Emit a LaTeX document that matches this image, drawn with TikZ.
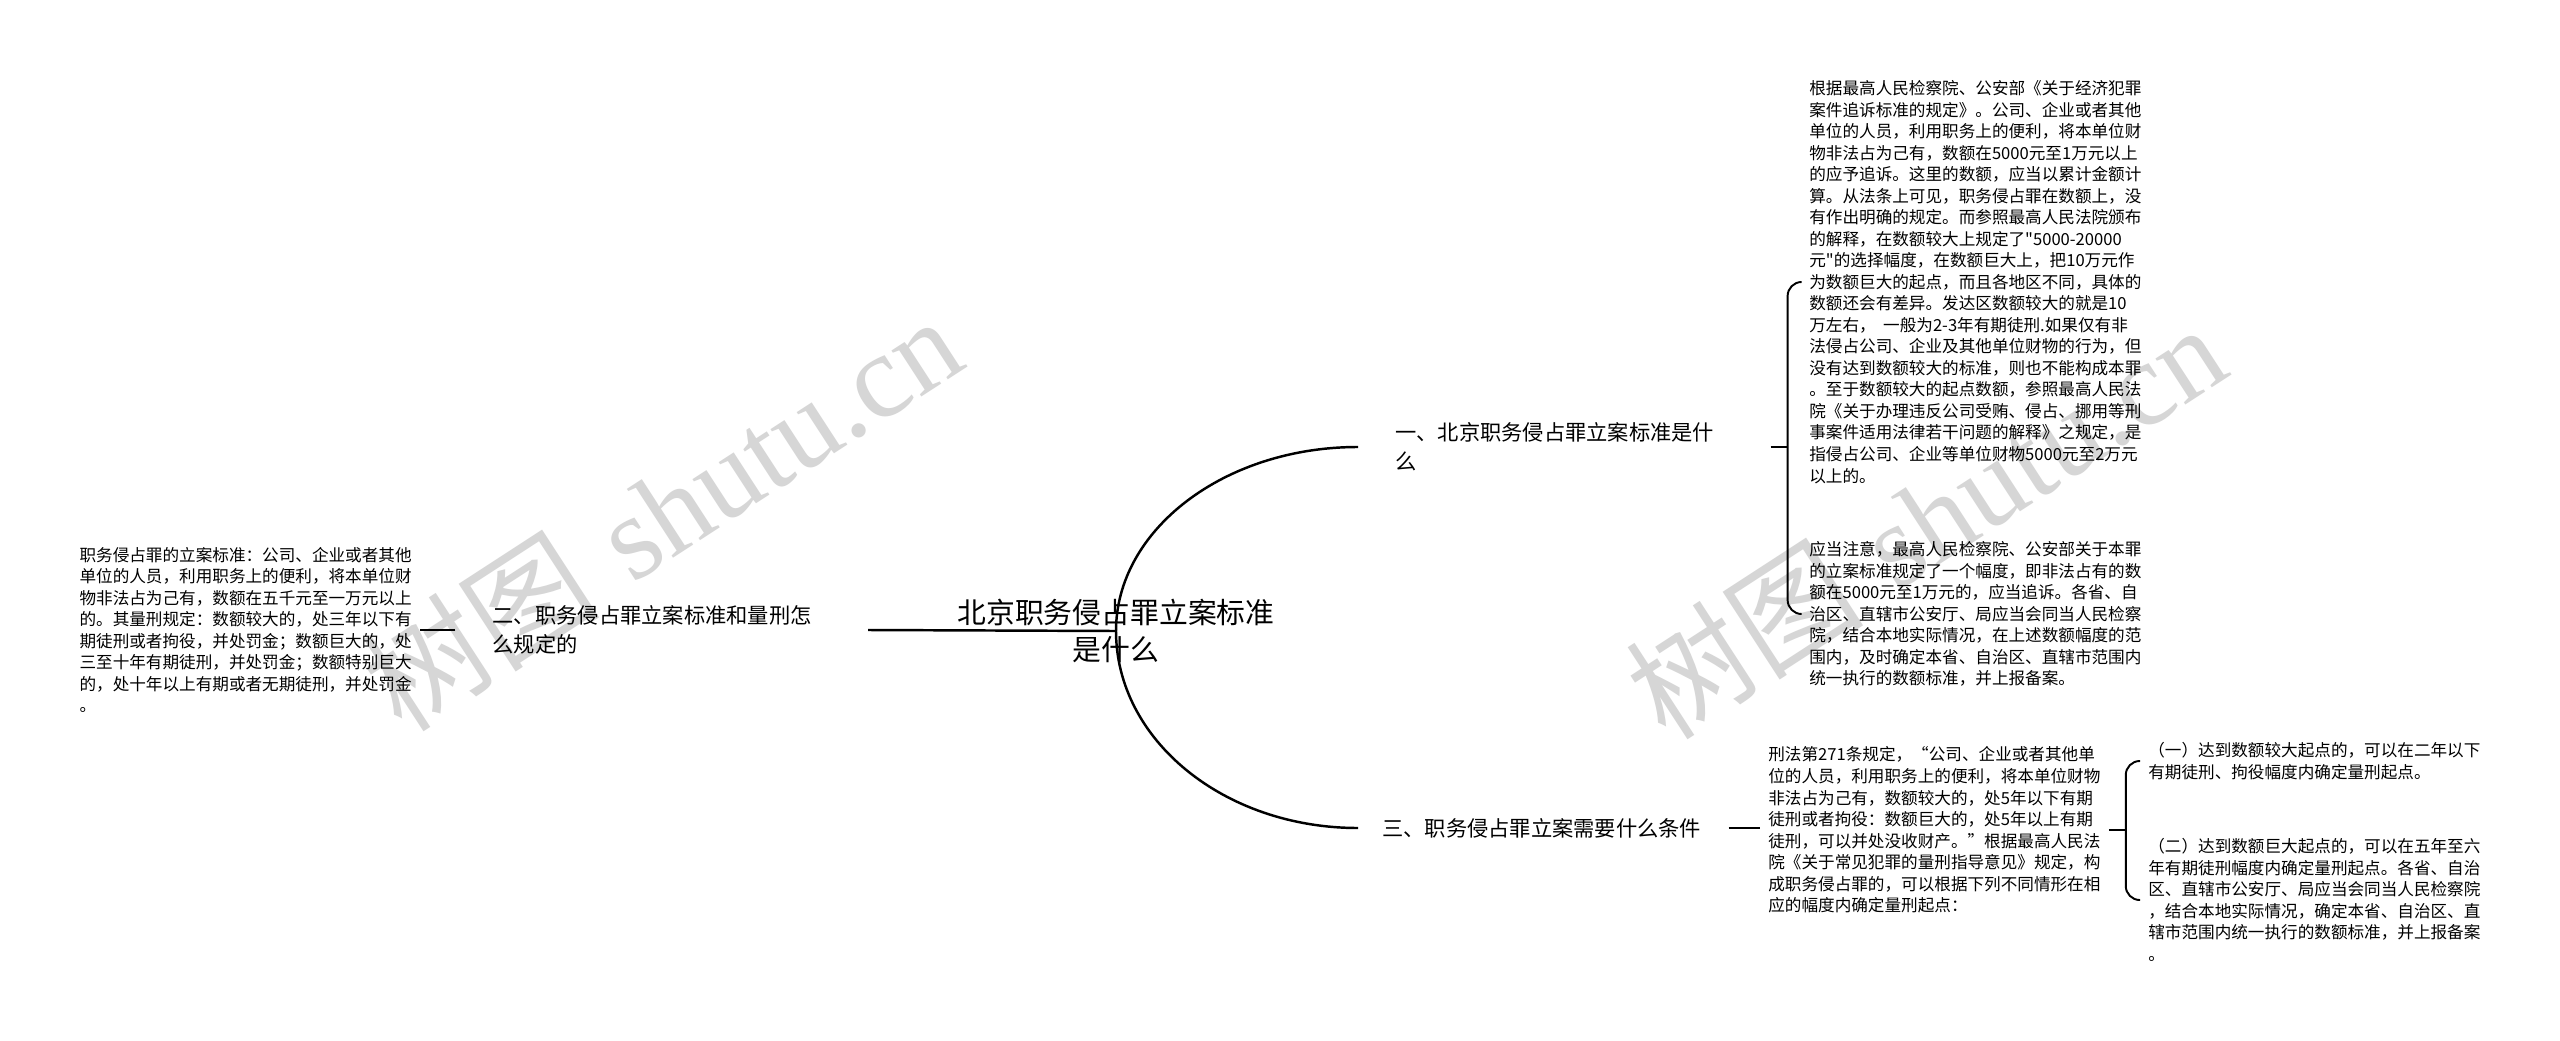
\documentclass[tikz,border=0pt]{standalone}
\usepackage{fontspec}
\newfontfamily\cjk{Noto Sans CJK SC}
\newfontfamily\wmlatin{Liberation Serif}

\begin{document}
\begin{tikzpicture}[x=0.02cm, y=-0.02cm,
  wmark/.style={text=gray!32, inner sep=0pt, rotate=33, font=\fontsize{68pt}{68pt}\selectfont},
  root/.style={font=\cjk\fontsize{16.4pt}{21.3pt}\selectfont, align=center, inner sep=0pt},
  branch/.style={font=\cjk\fontsize{12.1pt}{16.5pt}\selectfont, align=left, inner xsep=0.74cm, inner ysep=0pt, text width=6.76cm},
  leaf/.style={font=\cjk\fontsize{9.45pt}{12.25pt}\selectfont, align=left, inner xsep=0.16cm, inner ysep=0pt},
  trunk/.style={draw=black, line width=1.4pt},
  twig/.style={draw=black, line width=1.1pt}]
\fill[white] (0,0) rectangle (2560,1041);
\useasboundingbox (0,0) rectangle (2560,1041);

\node[wmark] (wmleft) at (661,512) {{\cjk 树图} {\wmlatin shutu.cn}};
\node[wmark] (wmright) at (1925,520) {{\cjk 树图} {\wmlatin shutu.cn}};

\node[root] (root) at (1116,631) {北京职务侵占罪立案标准\\是什么};

\node[branch, anchor=west] (b1) at (1358,447) {一、北京职务侵占罪立案标准是什\\么};
\node[branch, anchor=east] (b2) at (868,630) {二、职务侵占罪立案标准和量刑怎\\么规定的};
\node[branch, anchor=west, inner xsep=0.48cm, text width=6.44cm] (b3) at (1358,828) {三、职务侵占罪立案需要什么条件};

\node[leaf, anchor=west] (la1) at (1801,282) {根据最高人民检察院、公安部《关于经济犯罪\\
案件追诉标准的规定》。公司、企业或者其他\\
单位的人员，利用职务上的便利，将本单位财\\
物非法占为己有，数额在5000元至1万元以上\\
的应予追诉。这里的数额，应当以累计金额计\\
算。从法条上可见，职务侵占罪在数额上，没\\
有作出明确的规定。而参照最高人民法院颁布\\
的解释，在数额较大上规定了"5000-20000\\
元"的选择幅度，在数额巨大上，把10万元作\\
为数额巨大的起点，而且各地区不同，具体的\\
数额还会有差异。发达区数额较大的就是10\\
万左右，\ \ 一般为2-3年有期徒刑.如果仅有非\\
法侵占公司、企业及其他单位财物的行为，但\\
没有达到数额较大的标准，则也不能构成本罪\\
。至于数额较大的起点数额，参照最高人民法\\
院《关于办理违反公司受贿、侵占、挪用等刑\\
事案件适用法律若干问题的解释》之规定，是\\
指侵占公司、企业等单位财物5000元至2万元\\
以上的。};
\node[leaf, anchor=west] (la2) at (1801,614) {应当注意，最高人民检察院、公安部关于本罪\\
的立案标准规定了一个幅度，即非法占有的数\\
额在5000元至1万元的，应当追诉。各省、自\\
治区、直辖市公安厅、局应当会同当人民检察\\
院，结合本地实际情况，在上述数额幅度的范\\
围内，及时确定本省、自治区、直辖市范围内\\
统一执行的数额标准，并上报备案。};
\node[leaf, anchor=east] (lb) at (420,630) {职务侵占罪的立案标准：公司、企业或者其他\\
单位的人员，利用职务上的便利，将本单位财\\
物非法占为己有，数额在五千元至一万元以上\\
的。其量刑规定：数额较大的，处三年以下有\\
期徒刑或者拘役，并处罚金；数额巨大的，处\\
三至十年有期徒刑，并处罚金；数额特别巨大\\
的，处十年以上有期或者无期徒刑，并处罚金\\
。};
\node[leaf, anchor=west] (lc) at (1760,830) {刑法第271条规定，“公司、企业或者其他单\\
位的人员，利用职务上的便利，将本单位财物\\
非法占为己有，数额较大的，处5年以下有期\\
徒刑或者拘役：数额巨大的，处5年以上有期\\
徒刑，可以并处没收财产。”根据最高人民法\\
院《关于常见犯罪的量刑指导意见》规定，构\\
成职务侵占罪的，可以根据下列不同情形在相\\
应的幅度内确定量刑起点：};
\node[leaf, anchor=west] (lc1) at (2140,761) {（一）达到数额较大起点的，可以在二年以下\\
有期徒刑、拘役幅度内确定量刑起点。};
\node[leaf, anchor=west] (lc2) at (2140,900) {（二）达到数额巨大起点的，可以在五年至六\\
年有期徒刑幅度内确定量刑起点。各省、自治\\
区、直辖市公安厅、局应当会同当人民检察院\\
，结合本地实际情况，确定本省、自治区、直\\
辖市范围内统一执行的数额标准，并上报备案\\
。};

\draw[trunk] (root.center) -- (b2.east);
\draw[trunk] (root.center) .. controls +(0,-101) and +(-134,0) .. (b1.west);
\draw[trunk] (root.center) .. controls +(0,109) and +(-134,0) .. (b3.west);

\draw[twig] (b2.west) -- (b2.west -| lb.east);
\draw[twig] (b1.east) -- ++(17,0) coordinate (k1);
\draw[twig, rounded corners=0.28cm] (la1.west) -| (k1) |- (la2.west);
\draw[twig] (b3.east) -- (b3.east -| lc.west);
\draw[twig] (lc.east) -- ++(17,0) coordinate (k3);
\draw[twig, rounded corners=0.28cm] (lc1.west) -| (k3) |- (lc2.west);
\end{tikzpicture}
\end{document}
